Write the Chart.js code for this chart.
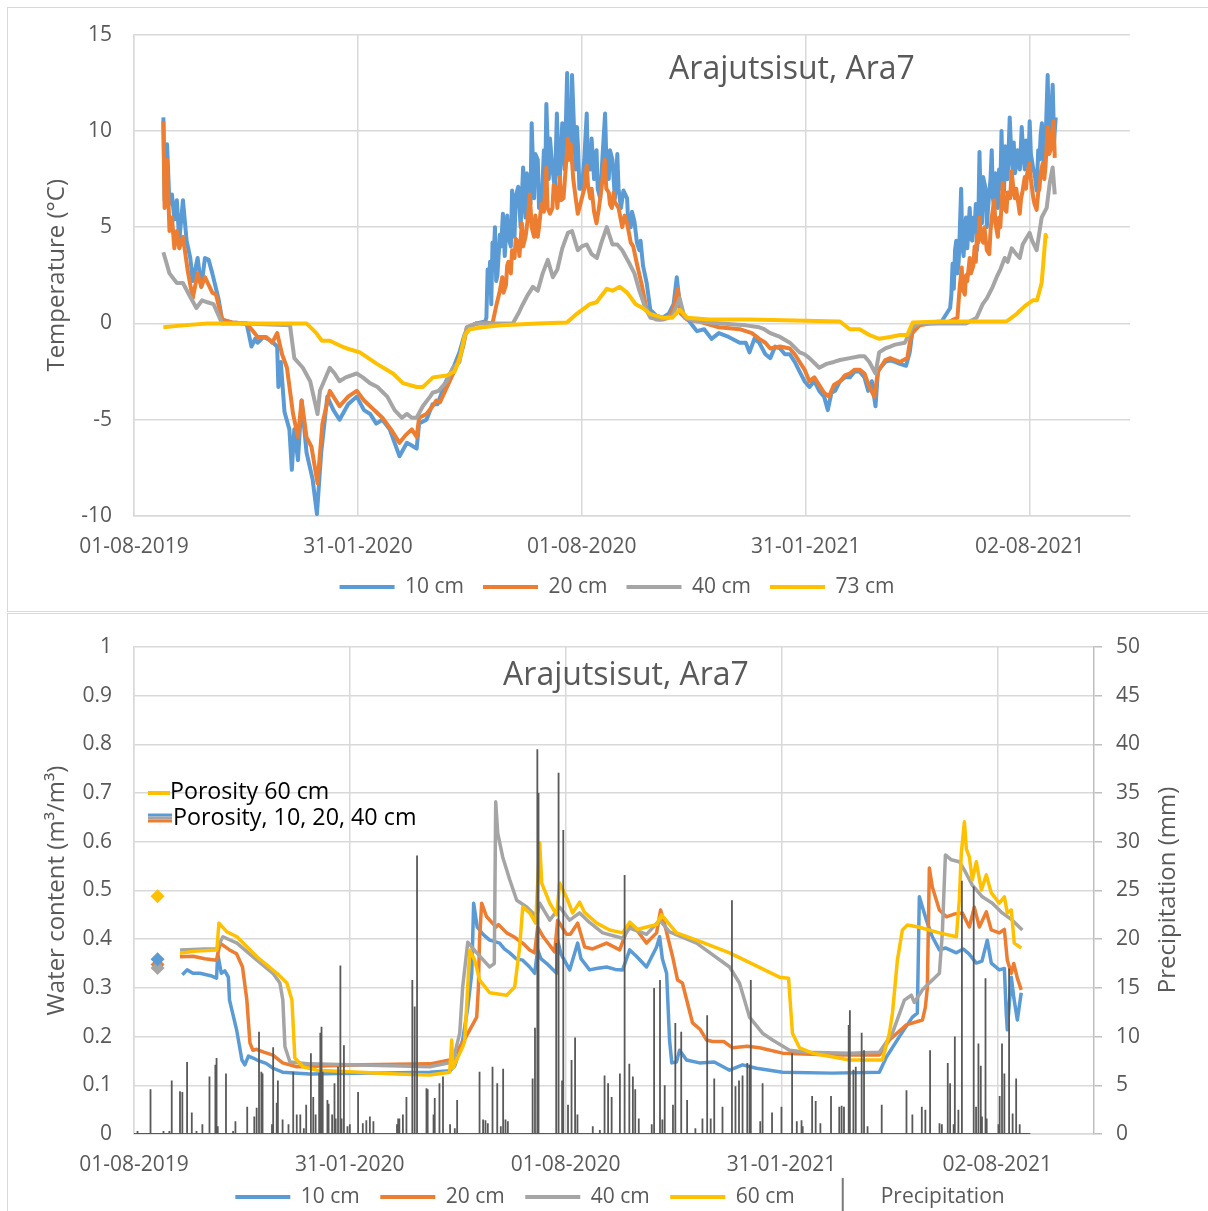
<!DOCTYPE html>
<html>
<head>
<meta charset="utf-8">
<script src="https://cdn.jsdelivr.net/npm/chart.js@4/dist/chart.umd.min.js"></script>
<style>
  html,body{margin:0;padding:0;background:#fff;width:1208px;height:1211px;overflow:hidden;}
  #c1{position:absolute;left:0;top:0;}
  #c2{position:absolute;left:0;top:612px;}
  .frame{position:absolute;border:1px solid #d9d9d9;pointer-events:none;}
</style>
</head>
<body>
<canvas id="c1" width="1208" height="610"></canvas>
<canvas id="c2" width="1208" height="610"></canvas>
<div class="frame" style="left:7px;top:7px;width:1210px;height:603px;"></div>
<div class="frame" style="left:7px;top:613px;width:1210px;height:620px;"></div>
<script>
// ---------------- DATA (x = days since 01-08-2019) ----------------
const dateTickDays   = [0, 183, 366, 549, 732];
const dateTickLabels = ['01-08-2019', '31-01-2020', '01-08-2020', '31-01-2021', '02-08-2021'];

const chartTitle = 'Arajutsisut, Ara7';
const tempSeriesNames = ['10 cm', '20 cm', '40 cm', '73 cm'];
const wcSeriesNames   = ['10 cm', '20 cm', '40 cm', '60 cm'];

// Soil temperature (°C)
const temp10 = [[24,10.7],[25,6.4],[27,9.3],[29,6.2],[31,6.7],[33,5.4],[35,6.4],[37,4.3],[40,6.4],[43,4.3],[46,3.4],[48,2.2],[52,3.4],[55,1.9],[58,3.4],[61,3.3],[64,2.6],[69,1.3],[72,0.2],[80,0.05],[92,0],[96,-1.2],[99,-0.8],[101,-1.0],[106,-0.7],[112,-0.9],[117,-1.2],[118,-3.3],[120,-2.0],[123,-4.6],[127,-5.5],[129,-7.6],[131,-5.5],[134,-7.1],[137,-4.0],[141,-6.7],[146,-8.1],[149.5,-9.9],[153,-6.7],[158,-3.8],[163,-4.5],[168,-5.0],[175,-4.2],[182,-3.8],[188,-4.5],[193,-4.7],[198,-5.2],[203,-5.0],[209,-5.5],[217,-6.9],[223,-6.2],[226,-6.3],[231,-6.5],[233,-5.2],[239,-5.0],[244,-4.2],[248,-4.2],[255,-3.0],[261,-2.3],[266,-1.5],[270,-0.6],[273,-0.2],[280,0],[287,0.1],
  [288,0.3],[289,2.8],[290,2.0],[291,3.2],[292,1.0],[293,4.2],[294,3.5],[295,5.0],[296,2.2],[297,2.5],[299,4.6],[300,4.0],[301.5,5.7],[303,3.5],[305,5.6],[306,4.5],[308,4.0],[309,6.9],[311,4.5],[312,6.6],[314,7.1],[316,5.0],[318,8.1],[320,5.5],[321,7.8],[322,7.0],[324,6.2],[325,10.4],[327,6.5],[328,8.8],[330,8.5],[331,6.0],[333,6.0],[335,9.0],[336,7.0],[337,11.4],[339,7.5],[340,9.6],[342,8.0],[344,7.0],[345.6,10.9],[347,8.0],[348,7.5],[350,10.4],[351,9.5],[352,8.0],[354,13.0],[355,9.5],[356,10.0],[357,8.8],[358,12.9],[360,9.5],[361,8.0],[362,10.2],[363,9.0],[364,7.0],[366,7.0],[368,8.5],[370,10.9],[371,8.0],[373,8.0],[374,9.6],[376,7.5],[378,9.0],[379,7.0],[381,6.5],[383,8.8],[385,10.9],[386,8.6],[388,7.5],[389,9.0],[391,8.5],[393,6.5],[395,8.8],[396,7.0],[398,6.0],[400,6.9],[403,6.5],[404,5.0],[406,5.0],[407,5.8],[409,5.3],[411,4.2],[413,3.8],[414,4.3],[416,3.0],[419,2.1],[422,0.7],[427,0.4],[432,0.3],[437,0.5],[441,1.0],[443.6,2.4],[446,1.0],[448.5,0.5],[454,0.1],[460,-0.4],[466,-0.3],[472,-0.8],[478,-0.5],[486,-0.7],[495,-1.0],[500,-1.0],[503,-1.5],[507,-0.8],[511,-1.0],[516,-1.6],[520,-1.8],[524,-1.2],[528,-1.3],[532,-1.6],[536,-1.6],[540,-2.0],[544,-2.5],[548,-3.0],[552,-3.3],[556,-3.0],[560,-3.5],[564,-3.8],[567,-4.5],[570,-3.6],[573,-3.5],[577,-3.0],[581,-2.8],[585,-2.8],[589,-2.5],[593,-2.5],[597,-2.8],[600,-3.5],[603,-3.0],[606,-4.3],[608,-2.5],[610,-2.3],[614,-2.0],[618,-1.9],[622,-2.0],[626,-2.1],[631,-2.2],[634,-1.5],[636,-0.5],[642,0],[650,0.05],[660,0.1],
  [667,0.8],[668,1.5],[669,3.1],[670,1.8],[671,3.8],[672,4.3],[673,2.6],[674,3.2],[675,5.0],[676,7.0],[677,4.0],[678,3.5],[679,4.8],[680,5.5],[681,3.9],[683,6.0],[684,4.4],[685,4.3],[686,5.5],[687,5.0],[688,6.2],[689,3.8],[690,5.2],[691,8.9],[692,6.0],[693,5.2],[694,7.6],[696,7.0],[697,5.0],[698,6.0],[700,7.5],[701,9.0],[702,6.5],[703,6.0],[704,7.8],[705,6.4],[706,6.0],[707,8.0],[708,7.0],[709,10.0],[710,7.5],[711,6.8],[712,9.2],[713,8.5],[714,7.5],[715.7,10.7],[717,8.8],[718,8.0],[719,9.4],[720,7.8],[721,8.2],[722,9.0],[724,8.0],[725.5,10.2],[727,8.6],[728,8.0],[729,9.5],[730,9.0],[731,8.2],[732,10.5],[733,8.8],[735,8.0],[736,7.8],[737.7,6.9],[739,9.0],[740,8.5],[741,9.8],[742,10.4],[743,8.6],[744,8.0],[745,9.5],[746.7,12.9],[748,9.0],[749,10.0],[750.8,12.4],[752,9.5],[753.3,10.7]];

const temp20 = [[24,10.5],[25,6.0],[27,8.5],[29,4.8],[31,5.5],[33,3.9],[35,4.8],[37,3.9],[40,4.5],[44,2.7],[48,1.3],[52,2.6],[55,1.9],[58,2.4],[61,2.0],[64,1.6],[67,1.5],[72,0.2],[80,0.05],[92,0],[96,-0.3],[101,-0.7],[108,-0.7],[113,-1.0],[117,-0.5],[121,-1.6],[125,-2.3],[130,-4.7],[134,-5.9],[137,-4.0],[141,-5.9],[145,-6.4],[150,-8.3],[154,-5.2],[160,-3.5],[168,-4.3],[175,-3.8],[182,-3.5],[188,-4.0],[193,-4.3],[203,-4.9],[210,-5.5],[217,-6.2],[222,-5.8],[227,-5.5],[231,-5.9],[233,-4.9],[239,-4.7],[244,-4.3],[247,-4.0],[250,-4.1],[258,-3.0],[263,-2.3],[269,-1.2],[272,-0.2],[280,0],[287,0.05],
  [293,0],[296,0.9],[299,1.7],[301,2.4],[302,1.6],[304,2.0],[305,3.0],[306,3.2],[308,2.6],[309,3.8],[311,3.4],[312,4.4],[314,4.2],[315,3.5],[317,5.2],[318,4.0],[320,4.5],[322,5.5],[323.5,6.7],[325,5.0],[327,4.5],[328,5.6],[330,4.5],[331,5.0],[333,6.2],[335,5.8],[337,8.1],[338,6.0],[340,5.7],[342,6.0],[343,7.2],[345,7.0],[346,6.0],[348,7.6],[349,6.4],[351,6.5],[353,8.2],[354.6,9.6],[356,8.5],[357,9.3],[359,7.5],[360,7.0],[361,6.5],[362.7,5.7],[364,6.0],[366,6.5],[368,7.0],[370,8.2],[371,7.2],[373,6.5],[374,7.0],[376,5.8],[378,5.2],[380,6.0],[381,6.5],[383,7.5],[384.8,8.5],[386,7.0],[388,6.8],[389,6.2],[390.5,6.0],[392,6.8],[393,6.3],[396,6.0],[399,5.0],[401,5.6],[403,5.2],[406,4.2],[408,4.0],[411,3.1],[415,2.0],[419,0.7],[423,0.4],[427,0.2],[432,0.2],[437,0.3],[441,0.8],[444.4,1.8],[447,0.5],[452,0.2],[462,0.1],[478,-0.2],[495,-0.3],[505,-0.5],[511,-0.8],[516,-1.0],[520,-1.3],[528,-1.2],[536,-1.3],[540,-1.6],[544,-2.0],[548,-2.4],[552,-3.0],[556,-2.8],[560,-3.2],[564,-3.6],[568,-3.8],[572,-3.2],[577,-3.0],[581,-2.7],[585,-2.6],[589,-2.4],[593,-2.4],[597,-2.6],[601,-3.3],[605,-3.8],[608,-2.5],[610,-2.3],[614,-1.9],[618,-1.8],[622,-1.9],[626,-2.0],[632,-1.8],[634,-1.0],[636,-0.5],[642,-0.1],[650,0],[665,0.05],
  [673,0.3],[674,1.2],[675,2.0],[676.5,2.9],[677,1.8],[679,1.5],[680,2.5],[681,2.2],[683,3.4],[684,2.6],[686,3.0],[687,4.0],[688,3.2],[689,4.6],[690,4.2],[691,5.5],[692,4.5],[694,4.2],[695,5.0],[697,3.8],[699,3.6],[700,4.8],[701,5.5],[703,6.4],[704,5.2],[706,4.5],[707,5.5],[708,5.0],[710,7.3],[711,6.0],[713,5.8],[714,6.8],[716,6.5],[717.3,7.9],[719,6.8],[720,6.5],[721,7.0],[723.9,5.7],[725,6.5],[726,6.8],[728,7.6],[729,7.0],[730,7.8],[732,8.3],[733,7.5],[735,6.5],[736,6.2],[737.7,5.9],[739,6.8],[740,7.0],[741,7.8],[742.6,8.3],[744,7.5],[745,8.2],[746.7,10.2],[748,8.8],[749,9.0],[750,9.8],[751.6,10.5],[752.5,8.6]];

const temp40 = [[24,3.7],[29,2.6],[35,2.1],[40,2.1],[45.8,1.4],[51,0.8],[55.6,1.2],[60,1.1],[65,1.0],[72,0],[90,0],[127.5,-0.1],[131,-1.8],[138,-2.3],[144,-3.0],[150,-4.7],[152,-3.5],[160,-2.3],[164,-2.6],[168,-3.0],[173,-2.8],[182,-2.6],[187,-2.8],[192.8,-3.1],[199,-3.3],[207,-3.8],[213,-4.5],[219,-4.9],[223,-4.7],[227,-4.9],[231,-4.9],[236,-4.3],[242,-3.8],[244,-3.6],[249,-3.5],[255.7,-3.0],[260.6,-2.3],[266,-2.0],[272,-0.2],[280,0],[300,0],[309.6,0],[314,0.5],[317.8,1.0],[322,1.5],[326,1.9],[330,1.7],[334,2.6],[338.2,3.3],[342.3,2.4],[346,2.8],[350,3.9],[354.6,4.7],[358,4.8],[362.7,3.8],[366,4.0],[370,4.1],[374,3.6],[378.3,3.4],[382,4.2],[386.4,5.0],[391,4.1],[395,4.1],[399,3.8],[405,3.1],[409,2.6],[413,1.7],[418,0.8],[422,0.3],[430,0.2],[440,0.4],[446,1.3],[450,0.3],[460,0.1],[480,0],[500,-0.1],[511,-0.2],[515,-0.3],[520,-0.5],[528,-0.7],[536,-1.0],[544,-1.5],[548,-1.6],[552,-1.8],[560,-2.3],[566,-2.1],[572,-2.0],[577,-1.9],[585,-1.8],[593,-1.7],[597,-1.7],[601,-2.0],[606,-2.6],[609,-1.5],[614,-1.3],[618,-1.2],[622,-1.1],[630,-1.0],[634,-0.5],[636,-0.2],[642,0],[680,0],[688.7,0.3],[693.6,1.0],[697,1.3],[701.8,1.9],[705,2.4],[708,2.8],[711.6,3.4],[714,3.2],[717.3,3.9],[721,3.6],[723.9,3.4],[726.3,4.1],[729,4.4],[732,4.7],[734,4.3],[737.7,3.8],[741.8,5.5],[745.9,6.0],[748.4,7.3],[750.8,8.1],[752.5,6.7]];

const temp73 = [[24,-0.2],[40,-0.1],[60,0],[80,0],[110,0],[141,0],[149,-0.5],[153.6,-0.9],[160,-0.9],[170,-1.2],[174,-1.3],[184.6,-1.5],[198.5,-2.1],[211.6,-2.6],[219.8,-3.1],[231,-3.3],[236,-3.3],[239.4,-3.1],[244.3,-2.8],[255.7,-2.7],[262,-2.5],[266.3,-1.8],[270.4,-0.6],[274.5,-0.3],[285,-0.2],[300,-0.1],[330,0],[353.8,0.05],[361.9,0.5],[372.5,1.0],[378,1.1],[386.4,1.8],[391,1.7],[397,1.9],[403,1.6],[410,1.0],[415.8,0.8],[421.6,0.5],[432,0.3],[440,0.3],[446,0.7],[452,0.3],[470,0.2],[503,0.2],[540,0.15],[577,0.1],[585,-0.3],[593,-0.3],[601,-0.6],[609,-0.8],[618,-0.7],[626,-0.6],[632,-0.6],[636.4,0.05],[660,0.1],[700,0.1],[713,0.1],[721.4,0.5],[728,0.9],[734.5,1.2],[738,1.2],[741.8,2.1],[743.5,3.4],[745,4.6],[746,4.4]];

// Volumetric water content (m3/m3)
const wc10 = [[41,0.327],[45,0.337],[50,0.33],[56,0.33],[65,0.325],[70,0.32],[71,0.37],[74,0.33],[77,0.335],[80,0.322],[81,0.275],[87,0.214],[91.5,0.152],[94,0.142],[97,0.16],[101,0.156],[106,0.15],[112,0.145],[118,0.135],[126,0.127],[149,0.123],[200,0.125],[251,0.127],[268,0.13],[272,0.14],[276,0.172],[278.7,0.193],[283,0.26],[286.4,0.33],[288,0.474],[291,0.425],[296,0.41],[301.6,0.398],[306,0.395],[310,0.392],[314,0.38],[318.6,0.372],[324,0.36],[329.6,0.357],[335.5,0.343],[339.7,0.33],[342.3,0.378],[345,0.36],[350,0.35],[358.4,0.33],[359.2,0.398],[362,0.37],[369.4,0.337],[376.2,0.392],[379,0.36],[386.3,0.337],[392,0.34],[400.7,0.343],[408,0.338],[414.3,0.337],[420.3,0.378],[426,0.365],[434.6,0.343],[443.1,0.384],[445.7,0.405],[448,0.36],[451.6,0.33],[454.1,0.193],[456,0.146],[460,0.148],[462.6,0.172],[468.5,0.152],[479.5,0.146],[492,0.148],[505,0.131],[516,0.142],[527.8,0.135],[549.9,0.127],[592,0.125],[632,0.127],[638,0.158],[649,0.2],[660,0.24],[664.2,0.248],[665.9,0.487],[671.9,0.439],[676.9,0.405],[682.9,0.378],[688,0.382],[697.3,0.372],[703,0.38],[708,0.37],[714.2,0.351],[719,0.355],[723.5,0.398],[726.9,0.351],[733.7,0.337],[738,0.34],[739.6,0.248],[740.5,0.214],[743.9,0.322],[746,0.28],[749,0.234],[752.3,0.29]];

const wc20 = [[39,0.364],[50,0.365],[60,0.36],[70,0.357],[73,0.392],[81,0.378],[87,0.37],[92,0.343],[95.7,0.275],[98.3,0.187],[100.8,0.172],[104,0.174],[110,0.168],[117.8,0.162],[126,0.146],[138,0.138],[194,0.142],[251,0.144],[267.7,0.152],[278.7,0.187],[290.6,0.24],[292,0.3],[293,0.4],[294.8,0.474],[299,0.446],[307,0.425],[309,0.43],[316,0.413],[322,0.405],[329.6,0.392],[335.5,0.378],[339.7,0.372],[342.3,0.425],[347,0.405],[356.7,0.374],[359.2,0.439],[366.8,0.41],[370,0.41],[376.2,0.433],[382.1,0.384],[388.9,0.38],[400.7,0.392],[411.8,0.378],[420.3,0.433],[426,0.42],[434.6,0.392],[443.1,0.413],[446.5,0.46],[450,0.43],[456.7,0.364],[460.9,0.316],[465,0.31],[473.6,0.228],[480,0.215],[485.5,0.193],[490.6,0.19],[500,0.19],[507.5,0.177],[520,0.18],[530.4,0.177],[549.9,0.166],[592,0.162],[632,0.162],[640.5,0.193],[654.9,0.224],[668.5,0.234],[671,0.26],[672.7,0.3],[674.4,0.546],[676.9,0.507],[682.9,0.46],[688.8,0.446],[696,0.452],[702.4,0.454],[708.3,0.425],[712.5,0.466],[716.8,0.425],[722.7,0.456],[726.9,0.419],[733.7,0.413],[738,0.42],[740.5,0.357],[743.9,0.33],[746,0.35],[749,0.32],[752.3,0.296]];

const wc40 = [[39,0.378],[60,0.38],[70,0.38],[75.4,0.405],[87.3,0.392],[104.2,0.357],[117.8,0.33],[123.7,0.31],[126.2,0.275],[128,0.179],[132.2,0.148],[149.1,0.144],[250.8,0.138],[270.3,0.148],[276.2,0.207],[278.7,0.302],[283,0.394],[290.6,0.372],[301.6,0.343],[305.5,0.35],[306.7,0.682],[308.4,0.618],[312.6,0.569],[318.6,0.522],[324.5,0.48],[333,0.466],[341.4,0.446],[344,0.474],[352.5,0.439],[360.9,0.466],[369.4,0.439],[377.9,0.454],[386,0.435],[397.4,0.413],[414.3,0.402],[420.3,0.423],[434.6,0.41],[445.7,0.439],[454.1,0.415],[477,0.392],[505,0.343],[513.4,0.31],[521.9,0.24],[532.9,0.207],[541.4,0.193],[555.8,0.172],[570.2,0.168],[606.6,0.166],[632,0.168],[643.1,0.207],[653.2,0.275],[659.1,0.285],[661.7,0.27],[668.5,0.296],[682.9,0.33],[685.4,0.413],[688,0.573],[693,0.563],[699.8,0.559],[704.1,0.542],[710.8,0.511],[719.3,0.487],[727.8,0.474],[736.2,0.454],[744.7,0.439],[753.2,0.419]];

const wc60 = [[39,0.371],[50,0.375],[70.3,0.378],[72,0.433],[78.8,0.415],[87.3,0.405],[104.2,0.364],[121.2,0.33],[129.6,0.31],[133.9,0.275],[136.4,0.156],[143.2,0.138],[155,0.131],[222.8,0.123],[250.8,0.121],[267.7,0.127],[269.4,0.193],[270.3,0.135],[278.7,0.179],[280.4,0.19],[284.7,0.378],[288.9,0.357],[293.1,0.316],[301.6,0.29],[316,0.285],[322.8,0.302],[327,0.384],[329.6,0.466],[335.5,0.454],[340.6,0.433],[344,0.598],[345.7,0.515],[352.5,0.474],[358.4,0.45],[360.9,0.515],[364,0.5],[367.7,0.48],[371.9,0.454],[377.9,0.476],[382,0.455],[392.3,0.433],[403.3,0.419],[414.3,0.413],[420.3,0.435],[427,0.42],[434.6,0.425],[443.1,0.43],[447.3,0.45],[460,0.413],[477,0.398],[505,0.372],[547.3,0.322],[555,0.32],[558.3,0.207],[564.3,0.177],[575.3,0.166],[606.6,0.152],[634.6,0.152],[640.5,0.207],[643.1,0.248],[647.3,0.357],[651.5,0.419],[655.8,0.429],[665,0.425],[682.9,0.413],[697.3,0.405],[699.8,0.48],[701.5,0.577],[704.1,0.641],[705.8,0.585],[708.3,0.569],[710.8,0.522],[714.2,0.559],[718.5,0.501],[722.7,0.532],[726.9,0.495],[733.7,0.474],[738,0.487],[740.5,0.454],[743.9,0.46],[746.4,0.392],[752.3,0.382]];

// Porosity markers
const porosityDay = 20;
const porosityNames  = ['Porosity 10 cm', 'Porosity 20 cm', 'Porosity 40 cm', 'Porosity 60 cm'];
const porosityValues = [0.359, 0.348, 0.341, 0.488];

// Daily precipitation (mm): [day, mm]
const precipRecordDays = [0, 760];
const precipitation = [[3,0.3],[14,4.6],[25,0.3],[30,0.3],[32,5.5],[39,4.4],[41,4.3],[45,7.4],[49,2.2],[53,0.3],[58,1.0],[64,5.9],[69,7.1],[70,7.8],[71,0.8],[78,6.2],[84,0.3],[86,1.3],[96,2.8],[102,1.8],[104,2.7],[106,10.5],[108,6.4],[109,6.2],[117,1.0],[118,8.9],[121,3.2],[122,5.5],[126,1.5],[131,1.0],[135,6.4],[138,2.0],[141,2.0],[144,0.6],[146,3.0],[150,8.3],[152,3.8],[154,2.0],[157,6.3],[158,10.4],[159,11.0],[160,6.4],[164,3.5],[165,3.1],[168,2.0],[170,5.2],[171,1.6],[173,6.9],[175,17.3],[176,1.6],[178,9.1],[181,0.8],[183,1.0],[190,4.3],[194,1.1],[197,1.4],[200,1.8],[203,1.3],[223,1.0],[224,1.6],[225,1.6],[228,2.0],[231,3.8],[236,15.8],[238,13.1],[240,28.6],[248,4.7],[249,4.6],[254,2.0],[255,3.7],[259,5.2],[262,5.9],[268,1.0],[272,0.6],[274,3.5],[293,6.4],[296,1.5],[298,1.4],[300,1.1],[304,6.9],[308,5.2],[311,0.8],[313,6.7],[315,1.5],[317,1.3],[338,5.7],[340,10.9],[342,39.5],[343,35.0],[358,19.6],[360,37.1],[363,5.5],[364,31.2],[368,3.0],[371,7.6],[374,9.9],[376,2.0],[389,0.8],[395,0.4],[399,6.0],[402,5.2],[405,3.8],[412,6.2],[416,26.6],[420,7.2],[423,5.9],[425,4.6],[428,1.6],[439,1.0],[441,15.0],[446,15.8],[448,1.5],[450,5.0],[457,3.0],[459,11.4],[464,10.5],[469,3.5],[476,0.6],[482,1.6],[486,12.2],[489,1.6],[492,5.7],[499,2.8],[507,24.0],[510,4.9],[513,5.5],[516,6.0],[520,7.3],[522,7.1],[523,15.8],[531,1.3],[533,5.2],[541,2.2],[549,2.8],[558,8.3],[562,1.3],[566,1.4],[567,0.8],[575,3.9],[578,3.4],[582,1.1],[591,3.9],[598,2.8],[600,2.9],[602,2.8],[606,11.2],[607,12.7],[610,6.6],[612,6.9],[617,10.4],[619,8.6],[622,0.8],[634,3.0],[655,4.5],[660,2.0],[668,2.8],[671,2.5],[675,8.6],[683,1.1],[685,1.0],[690,7.3],[692,5.2],[695,1.0],[696,10.0],[699,2.5],[702,26.0],[712,25.4],[714,2.8],[716,9.3],[718,7.0],[719,1.8],[722,16.0],[723,1.6],[733,1.0],[734,3.9],[736,9.3],[738,6.2],[742,17.0],[745,2.1],[748,5.7],[751,1.0]];

// ---------------- STYLE ----------------
const FONT = "'Open Sans', sans-serif";
const C_BLUE = '#5B9BD5', C_ORANGE = '#ED7D31', C_GRAY = '#A5A5A5', C_YELLOW = '#FFC000';
const C_TEXT = '#595959', C_GRID = '#D9D9D9', C_PREC = '#595959';
const seriesColors = [C_BLUE, C_ORANGE, C_GRAY, C_YELLOW];

Chart.defaults.font.family = FONT;
Chart.defaults.color = C_TEXT;

const toXY = arr => arr.map(([x, y]) => ({x, y}));
const dateLabel = v => { const i = dateTickDays.indexOf(v); return i >= 0 ? dateTickLabels[i] : ''; };

// tick labels are allowed to spill over the legend area (no clipping to the axis box)
const noLabelClip = {
  id: 'noLabelClip',
  beforeDraw(chart) { Object.values(chart.scales).forEach(s => { s._computeLabelArea = () => undefined; }); }
};

// plugin that draws free texts / legend keys
const annot = {
  id: 'annot',
  afterDraw(chart, args, opts) {
    const ctx = chart.ctx;
    (opts.lines || []).forEach(l => {
      ctx.save(); ctx.strokeStyle = l.color; ctx.lineWidth = l.width; ctx.lineCap = 'butt';
      ctx.beginPath(); ctx.moveTo(l.x1, l.y); ctx.lineTo(l.x2, l.y); ctx.stroke(); ctx.restore();
    });
    (opts.texts || []).forEach(t => {
      ctx.save();
      ctx.font = `${t.size}px ${FONT}`;
      ctx.fillStyle = t.color; ctx.textAlign = t.align || 'left'; ctx.textBaseline = 'middle';
      ctx.translate(t.x, t.y); if (t.rotate) ctx.rotate(t.rotate);
      ctx.fillText(t.text, 0, 0); ctx.restore();
    });
  }
};

const gridOpts = {color: C_GRID, lineWidth: 1.5, drawTicks: false};
const borderOpts = {color: C_GRID, width: 1.5};

// ---------------- CHART 1: temperature ----------------
const tempSets = [temp10, temp20, temp40, temp73];
new Chart(document.getElementById('c1'), {
  type: 'line',
  data: {
    datasets: tempSets.map((d, i) => ({
      label: tempSeriesNames[i], data: toXY(d), borderColor: seriesColors[i], backgroundColor: seriesColors[i],
      borderWidth: 4, pointRadius: 0, pointStyle: 'line', pointBorderWidth: 4, order: 4 - i,
      tension: 0, borderJoinStyle: 'round', fill: false
    }))
  },
  options: {
    responsive: false, animation: false, events: [],
    layout: {padding: {top: 34, left: 26, right: 0, bottom: 2.5}},
    scales: {
      x: {
        type: 'linear', min: 0, max: 814,
        afterBuildTicks: s => { s.ticks = dateTickDays.map(v => ({value: v})); },
        afterFit: s => { s.height = 41.5; },
        ticks: {callback: dateLabel, padding: 18.4, font: {size: 21}, maxRotation: 0, autoSkip: false},
        grid: gridOpts, border: borderOpts
      },
      y: {
        min: -10, max: 15,
        afterFit: s => { s.width = 108; },
        ticks: {stepSize: 5, padding: 22, font: {size: 21}},
        title: {display: true, text: 'Temperature (°C)', font: {size: 24}, padding: {top: 16.6, bottom: 0}},
        grid: gridOpts, border: borderOpts
      },
      spacer: {
        position: 'right', display: true, ticks: {display: false}, grid: {display: false, drawTicks: false},
        border: {display: false}, afterFit: s => { s.width = 78; }
      }
    },
    plugins: {
      legend: {position: 'bottom', labels: {usePointStyle: true, pointStyleWidth: 55, font: {size: 21}, padding: 19, color: C_TEXT, sort: (a, b) => a.datasetIndex - b.datasetIndex}},
      tooltip: {enabled: false},
      annot: {texts: [{text: chartTitle, x: 792, y: 70, size: 32, color: C_TEXT, align: 'center'}]}
    }
  },
  plugins: [annot, noLabelClip]
});

// ---------------- CHART 2: water content + precipitation ----------------
const wcSets = [wc10, wc20, wc40, wc60];
const precipPoints = [{x: precipRecordDays[0], y: 0}];
precipitation.forEach(([d, v]) => { precipPoints.push({x: d, y: 0}, {x: d, y: v}, {x: d, y: 0}); });
precipPoints.push({x: precipRecordDays[1], y: 0});

// legend key for precipitation: a thin vertical stroke
const precipKey = document.createElement('canvas');
precipKey.width = 6; precipKey.height = 38;
(() => { const k = precipKey.getContext('2d'); k.fillStyle = C_PREC; k.fillRect(2.2, 0, 1.6, 38); })();

const porosityColors = [C_BLUE, C_ORANGE, C_GRAY, C_YELLOW];
const ds2 = wcSets.map((d, i) => ({
  label: wcSeriesNames[i], data: toXY(d), yAxisID: 'y', borderColor: seriesColors[i], backgroundColor: seriesColors[i],
  borderWidth: 3.5, pointRadius: 0, pointStyle: 'line', pointBorderWidth: 4, order: 5 - i, tension: 0, borderJoinStyle: 'round', fill: false
}));
ds2.push({
  label: 'Precipitation', data: precipPoints, yAxisID: 'y2', borderColor: C_PREC, backgroundColor: C_PREC,
  borderWidth: 1.8, pointRadius: 0, pointStyle: precipKey, pointBorderWidth: 1.5, order: 0,
  tension: 0, borderJoinStyle: 'bevel', fill: false
});
porosityValues.forEach((v, i) => ds2.push({
  label: porosityNames[i], data: [{x: porosityDay, y: v}], yAxisID: 'y', showLine: false,
  pointStyle: 'rectRot', pointRadius: 7, borderWidth: 0, pointBorderWidth: 0,
  backgroundColor: porosityColors[i], borderColor: porosityColors[i], order: -1 - (i === 1 ? 0 : 1)
}));

new Chart(document.getElementById('c2'), {
  type: 'line',
  data: {datasets: ds2},
  options: {
    responsive: false, animation: false, events: [],
    layout: {padding: {top: 35, left: 32, right: 0, bottom: 4.5}},
    scales: {
      x: {
        type: 'linear', min: 0, max: 814,
        afterBuildTicks: s => { s.ticks = dateTickDays.map(v => ({value: v})); },
        afterFit: s => { s.height = 32; },
        ticks: {callback: dateLabel, padding: 18.4, font: {size: 21}, maxRotation: 0, autoSkip: false},
        grid: gridOpts, border: borderOpts
      },
      y: {
        position: 'left', min: 0, max: 1,
        afterFit: s => { s.width = 102; },
        ticks: {stepSize: 0.1, padding: 22, font: {size: 21}, callback: v => String(Math.round(v * 10) / 10)},
        title: {display: true, text: 'Water content (m³/m³)', font: {size: 24}, padding: {top: 10.6, bottom: 0}},
        grid: gridOpts, border: borderOpts
      },
      y2: {
        position: 'right', min: 0, max: 50,
        afterFit: s => { s.width = 114; },
        ticks: {stepSize: 5, padding: 14, font: {size: 21}},
        grid: {drawOnChartArea: false, drawTicks: true, tickLength: 8, color: '#BFBFBF', lineWidth: 1.5},
        border: {color: '#BFBFBF', width: 1.5}
      }
    },
    plugins: {
      legend: {
        position: 'bottom',
        labels: {usePointStyle: true, pointStyleWidth: 55, font: {size: 21}, padding: 20.5, color: C_TEXT,
          filter: item => !item.text.startsWith('Porosity'), sort: (a, b) => a.datasetIndex - b.datasetIndex}
      },
      tooltip: {enabled: false},
      annot: {
        lines: [
          {x1: 148, x2: 170, y: 181, color: C_YELLOW, width: 4},
          {x1: 148, x2: 172, y: 203, color: C_BLUE, width: 3},
          {x1: 148, x2: 172, y: 206, color: C_GRAY, width: 3},
          {x1: 148, x2: 172, y: 209, color: C_ORANGE, width: 3}
        ],
        texts: [
          {text: chartTitle, x: 626, y: 64, size: 32, color: C_TEXT, align: 'center'},
          {text: 'Porosity 60 cm', x: 170, y: 180, size: 23.2, color: '#000000'},
          {text: 'Porosity, 10, 20, 40 cm', x: 173, y: 206, size: 23.3, color: '#000000'},
          {text: 'Precipitation (mm)', x: 1168, y: 278, size: 24, color: C_TEXT, align: 'center', rotate: -Math.PI / 2}
        ]
      }
    }
  },
  plugins: [annot, noLabelClip]
});
</script>
</body>
</html>
